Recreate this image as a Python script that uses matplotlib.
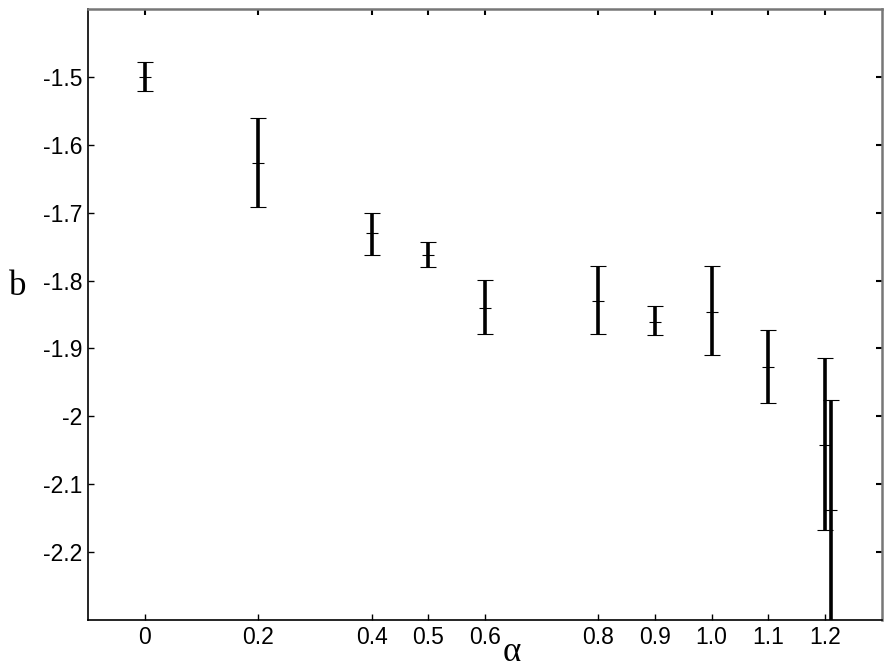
import numpy as np
import matplotlib
matplotlib.use('Agg')
import matplotlib.pyplot as plt

# data
alpha = [0.0, 0.2, 0.4, 0.5, 0.6, 0.8, 0.9, 1.0, 1.1, 1.2, 1.21]
b_mid = [-1.500, -1.627, -1.730, -1.762, -1.840, -1.830, -1.861, -1.846, -1.928, -2.042, -2.138]
b_top = [-1.478, -1.560, -1.701, -1.743, -1.799, -1.778, -1.838, -1.778, -1.873, -1.914, -1.976]
b_bot = [-1.521, -1.692, -1.762, -1.780, -1.879, -1.879, -1.880, -1.910, -1.981, -2.168, -2.310]

xtick_pos = [0, 0.2, 0.4, 0.5, 0.6, 0.8, 0.9, 1.0, 1.1, 1.2]
xtick_lbl = ['0', '0.2', '0.4', '0.5', '0.6', '0.8', '0.9', '1.0', '1.1', '1.2']
ytick_pos = [-2.2, -2.1, -2.0, -1.9, -1.8, -1.7, -1.6, -1.5]
ytick_lbl = ['-2.2', '-2.1', '-2', '-1.9', '-1.8', '-1.7', '-1.6', '-1.5']

b_mid = np.array(b_mid)
yerr = [b_mid - np.array(b_bot), np.array(b_top) - b_mid]

fig = plt.figure(figsize=(8.91, 6.70), dpi=100)
ax = fig.add_axes([88.3 / 891, 50 / 670, (881.7 - 88.3) / 891, 611 / 670])

ax.errorbar(alpha, b_mid, yerr=yerr, fmt='_', color='black', ecolor='black',
            elinewidth=2.6, capsize=6, capthick=3, markersize=8,
            markeredgewidth=0.8)

ax.set_xlim(-0.1, 1.3)
ax.set_ylim(-2.3, -1.4)
ax.set_xticks(xtick_pos)
ax.set_xticklabels(xtick_lbl)
ax.set_yticks(ytick_pos)
ax.set_yticklabels(ytick_lbl)

for lbl in ax.get_xticklabels() + ax.get_yticklabels():
    lbl.set_family('Liberation Sans')
    lbl.set_fontsize(16.5)

ax.tick_params(direction='in', length=4.5, width=1, top=True, right=True)
ax.tick_params(axis='x', pad=4)
ax.tick_params(axis='y', pad=4)

# grey ticks on the top and right edges
for t in ax.xaxis.get_major_ticks() + ax.yaxis.get_major_ticks():
    t.tick2line.set_color('#777777')
    t.tick2line.set_markeredgewidth(1.5)

# MATLAB-like box: black left/bottom, grey top/right
for side in ['left', 'bottom']:
    ax.spines[side].set_color('black')
    ax.spines[side].set_linewidth(1.2)
for side in ['top', 'right']:
    ax.spines[side].set_color('#777777')
    ax.spines[side].set_linewidth(1.8)

fig.text(18 / 891, 1 - 287 / 670, 'b', family='Liberation Serif', fontsize=25,
         ha='center', va='center')
fig.text(512 / 891, 0.001, 'α', family='Liberation Serif', fontsize=25,
         ha='center', va='bottom')

fig.savefig('out.png', dpi=100)
